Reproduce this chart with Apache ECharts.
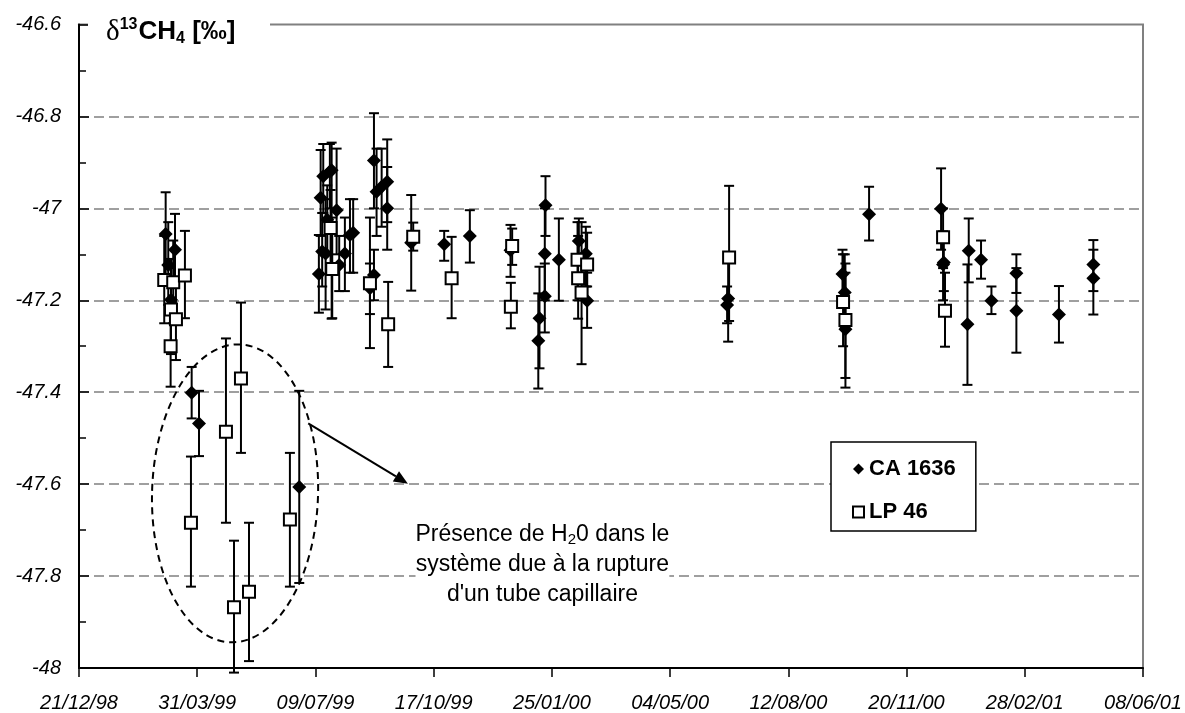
<!DOCTYPE html>
<html>
<head>
<meta charset="utf-8">
<script src="https://cdn.jsdelivr.net/npm/echarts@6/dist/echarts.min.js"></script>
<style>
  html, body { margin: 0; padding: 0; background: #fff; }
  #chart { width: 1185px; height: 713px; }
</style>
</head>
<body>
<div id="chart"></div>
<script>
// x values are days counted from 21/12/98
const xTickLabels = ['21/12/98', '31/03/99', '09/07/99', '17/10/99', '25/01/00', '04/05/00', '12/08/00', '20/11/00', '28/02/01', '08/06/01']

// CA 1636 (diamonds)
const caDays = [73.3, 75.5, 77.8, 81.2, 95.3, 101.5, 186.3, 202.9, 204.4, 205.7, 206.6, 208.6, 210.0, 212.2, 213.7, 217.9, 220.1, 224.9, 229.2, 231.9, 246.1, 249.5, 249.5, 251.7, 256.0, 260.7, 260.7, 281, 308.9, 330.6, 365.0, 388.5, 389.5, 394.6, 394.0, 394.0, 405.9, 422.8, 428.7, 429.8, 549.1, 548.2, 645.8, 647.7, 648.3, 668.3, 729.2, 730.9, 731.5, 752.6, 751.5, 763.0, 771.8, 792.9, 792.9, 828.9, 858.0, 858.0]
const caValues = [-47.056, -47.123, -47.199, -47.09, -47.401, -47.468, -47.606, -47.143, -46.977, -47.094, -46.93, -47.098, -47.025, -46.92, -46.917, -47.004, -47.123, -47.098, -47.058, -47.053, -47.174, -46.896, -47.145, -46.964, -46.953, -46.942, -47.0, -47.075, -47.078, -47.06, -47.091, -47.288, -47.239, -46.993, -47.099, -47.191, -47.112, -47.071, -47.099, -47.201, -47.196, -47.21, -47.143, -47.183, -47.263, -47.013, -47.001, -47.122, -47.118, -47.092, -47.252, -47.112, -47.201, -47.141, -47.223, -47.231, -47.122, -47.152]
const caLow = [-47.15, -47.21, -47.29, -47.17, -47.457, -47.539, -47.815, -47.227, -47.06, -47.17, -47.01, -47.22, -47.10, -47.00, -47.24, -47.10, -47.18, -47.18, -47.14, -47.14, -47.23, -47.00, -47.20, -47.06, -47.04, -47.03, -47.09, -47.179, -47.114, -47.118, -47.149, -47.392, -47.348, -47.06, -47.20, -47.27, -47.201, -47.10, -47.17, -47.26, -47.29, -47.25, -47.20, -47.26, -47.39, -47.07, -47.09, -47.20, -47.18, -47.161, -47.384, -47.153, -47.23, -47.184, -47.314, -47.292, -47.18, -47.231]
const caHigh = [-46.965, -47.03, -47.11, -47.012, -47.345, -47.397, -47.397, -47.058, -46.873, -47.01, -46.86, -46.98, -46.95, -46.86, -46.857, -46.87, -47.06, -47.02, -46.98, -46.98, -47.12, -46.793, -47.09, -46.87, -46.87, -46.85, -46.91, -46.971, -47.049, -47.004, -47.036, -47.185, -47.127, -46.93, -47.0, -47.12, -47.022, -47.022, -47.04, -47.14, -47.1, -47.17, -47.09, -47.1, -47.14, -46.953, -46.913, -47.05, -47.06, -47.022, -47.122, -47.07, -47.17, -47.1, -47.13, -47.169, -47.069, -47.09]

// LP 46 (open squares)
const lpDays = [72.1, 79.7, 89.6, 77.8, 82.0, 77.5, 94.7, 124.3, 137.0, 131.1, 143.8, 178.4, 212.8, 214.2, 246.1, 261.5, 282.7, 315.2, 366.4, 365.3, 421.7, 422.2, 425.1, 429.8, 549.9, 646.3, 648.3, 730.9, 732.5]
const lpValues = [-47.156, -47.161, -47.146, -47.22, -47.241, -47.30, -47.684, -47.486, -47.370, -47.868, -47.834, -47.677, -47.043, -47.132, -47.163, -47.252, -47.062, -47.152, -47.082, -47.214, -47.112, -47.152, -47.183, -47.122, -47.107, -47.204, -47.243, -47.063, -47.223]
const lpLow = [-47.25, -47.25, -47.239, -47.317, -47.33, -47.388, -47.823, -47.684, -47.532, -48.01, -47.985, -47.823, -47.13, -47.239, -47.304, -47.345, -47.092, -47.239, -47.123, -47.261, -47.2, -47.24, -47.339, -47.17, -47.245, -47.3, -47.369, -47.13, -47.301]
const lpHigh = [-47.06, -47.07, -47.049, -47.13, -47.15, -47.21, -47.540, -47.283, -47.205, -47.723, -47.684, -47.532, -46.96, -47.02, -47.02, -47.16, -47.031, -47.062, -47.044, -47.162, -47.03, -47.06, -47.03, -47.053, -46.951, -47.1, -47.12, -47.0, -47.14]

const FONT = '"Liberation Sans", Arial, sans-serif'

const rows = (days, vals, lo, hi) => days.map((d, i) => [d, vals[i], lo[i], hi[i]])

const errorBars = function (params, api) {
  const x = api.value(0)
  const pLo = api.coord([x, api.value(2)])
  const pHi = api.coord([x, api.value(3)])
  const w = 5
  const style = { stroke: '#000', lineWidth: 2 }
  return {
    type: 'group',
    children: [
      { type: 'line', shape: { x1: pLo[0], y1: pLo[1], x2: pHi[0], y2: pHi[1] }, style: style },
      { type: 'line', shape: { x1: pLo[0] - w, y1: pLo[1], x2: pLo[0] + w, y2: pLo[1] }, style: style },
      { type: 'line', shape: { x1: pHi[0] - w, y1: pHi[1], x2: pHi[0] + w, y2: pHi[1] }, style: style },
    ],
  }
}

const chart = echarts.init(document.getElementById('chart'))

let option = {
  animation: false,
  backgroundColor: '#fff',
  grid: {
    left: 79,
    right: 42,
    top: 24.5,
    bottom: 45,
    show: true,
    borderColor: '#808080',
    borderWidth: 2,
    containLabel: false,
    outerBoundsMode: 'none',
  },
  legend: {
    data: ['CA 1636', 'LP 46'],
    orient: 'vertical',
    left: 831,
    top: 442,
    padding: [16, 20, 8, 21],
    itemGap: 21,
    itemWidth: 11,
    itemHeight: 11,
    selectedMode: false,
    backgroundColor: '#fff',
    borderColor: '#000',
    borderWidth: 1.5,
    borderRadius: 0,
    textStyle: { fontFamily: FONT, fontSize: 22, fontWeight: 'bold', color: '#000' },
  },
  xAxis: {
    type: 'value',
    min: 0,
    max: 900,
    interval: 100,
    axisLine: { show: true, onZero: false, lineStyle: { color: '#000', width: 2 } },
    axisTick: { show: true, inside: false, length: 9, lineStyle: { color: '#000', width: 1.5 } },
    splitLine: { show: false },
    axisLabel: {
      margin: 25,
      showMinLabel: true,
      showMaxLabel: true,
      fontFamily: FONT,
      fontSize: 20,
      fontStyle: 'italic',
      color: '#000',
      formatter: function (v) {
        return xTickLabels[Math.round(v / 100)]
      },
    },
  },
  yAxis: {
    type: 'value',
    min: -48,
    max: -46.6,
    interval: 0.2,
    axisLine: { show: true, onZero: false, lineStyle: { color: '#000', width: 2 } },
    axisTick: { show: true, inside: true, length: 10, lineStyle: { color: '#000', width: 1.5 } },
    minorTick: { show: true, splitNumber: 2, length: 7, lineStyle: { color: '#000', width: 1.5 } },
    splitLine: {
      show: true,
      showMinLine: false,
      showMaxLine: false,
      lineStyle: { color: '#808080', width: 1.5, type: [10, 5] },
    },
    axisLabel: {
      margin: 18,
      showMinLabel: true,
      showMaxLabel: true,
      fontFamily: FONT,
      fontSize: 20,
      fontStyle: 'italic',
      color: '#000',
    },
  },
  series: [
    {
      name: 'CA 1636 err',
      type: 'custom',
      renderItem: errorBars,
      data: rows(caDays, caValues, caLow, caHigh),
      encode: { x: 0, y: 1 },
      clip: false,
      silent: true,
      z: 2,
    },
    {
      name: 'LP 46 err',
      type: 'custom',
      renderItem: errorBars,
      data: rows(lpDays, lpValues, lpLow, lpHigh),
      encode: { x: 0, y: 1 },
      clip: false,
      silent: true,
      z: 2,
    },
    {
      name: 'CA 1636',
      type: 'scatter',
      symbol: 'diamond',
      symbolSize: 14,
      itemStyle: { color: '#000', opacity: 1 },
      data: caDays.map((d, i) => [d, caValues[i]]),
      silent: true,
      z: 3,
    },
    {
      name: 'LP 46',
      type: 'scatter',
      symbol: 'rect',
      symbolSize: 12,
      itemStyle: { color: '#fff', borderColor: '#000', borderWidth: 2, opacity: 1 },
      data: lpDays.map((d, i) => [d, lpValues[i]]),
      silent: true,
      z: 4,
    },
  ],
}

chart.setOption(option)

// annotations placed through the axes
const px = (d, v) => chart.convertToPixel({ gridIndex: 0 }, [d, v])
const ec = px(132, -47.62)
const a0 = px(193.9, -47.468)
const a1 = px(278.2, -47.599)
const len = Math.hypot(a1[0] - a0[0], a1[1] - a0[1])
const ux = (a1[0] - a0[0]) / len
const uy = (a1[1] - a0[1]) / len
const hb = [a1[0] - 14 * ux, a1[1] - 14 * uy]
const tc = px(392, -47.71)

chart.setOption({
  graphic: [
    // title box over top border
    { type: 'rect', left: 88, top: 10, shape: { width: 182, height: 32 }, style: { fill: '#fff' }, z: 10 },
    {
      type: 'text',
      x: 106,
      y: 32,
      z: 11,
      style: {
        text: '{d|δ}{sup|13}{b|CH}{sub|4}{b| [‰]}',
        verticalAlign: 'middle',
        rich: {
          d: { fontFamily: '"Liberation Serif", serif', fontSize: 29, fill: '#000' },
          sup: { fontFamily: FONT, fontSize: 16, fontWeight: 'bold', fill: '#000', padding: [0, 1, 14, 0] },
          b: { fontFamily: FONT, fontSize: 26, fontWeight: 'bold', fill: '#000' },
          sub: { fontFamily: FONT, fontSize: 16, fontWeight: 'bold', fill: '#000', padding: [14, 0, 0, 0] },
        },
      },
    },
    {
      type: 'ellipse',
      x: ec[0],
      y: ec[1],
      rotation: -0.03,
      shape: { cx: 0, cy: 0, rx: 83, ry: 149 },
      style: { fill: 'none', stroke: '#000', lineWidth: 2, lineDash: [7, 5] },
      z: 5,
    },
    {
      type: 'line',
      shape: { x1: a0[0], y1: a0[1], x2: hb[0], y2: hb[1] },
      style: { stroke: '#000', lineWidth: 2 },
      z: 5,
    },
    {
      type: 'polygon',
      shape: {
        points: [
          [a1[0], a1[1]],
          [hb[0] - 6 * uy, hb[1] + 6 * ux],
          [hb[0] + 6 * uy, hb[1] - 6 * ux],
        ],
      },
      style: { fill: '#000' },
      z: 5,
    },
    {
      type: 'text',
      x: tc[0],
      y: tc[1] - 15,
      z: 6,
      style: {
        text: '{a|Présence de H}{s|2}{a|0 dans le}\n{a|système due à la rupture}\n{a|d\'un tube capillaire}',
        align: 'center',
        verticalAlign: 'top',
        backgroundColor: '#fff',
        rich: {
          a: { fontFamily: FONT, fontSize: 23, fill: '#000', lineHeight: 30 },
          s: { fontFamily: FONT, fontSize: 15, fill: '#000', lineHeight: 30, padding: [10, 0, 0, 0] },
        },
      },
    },
  ],
})
</script>
</body>
</html>
